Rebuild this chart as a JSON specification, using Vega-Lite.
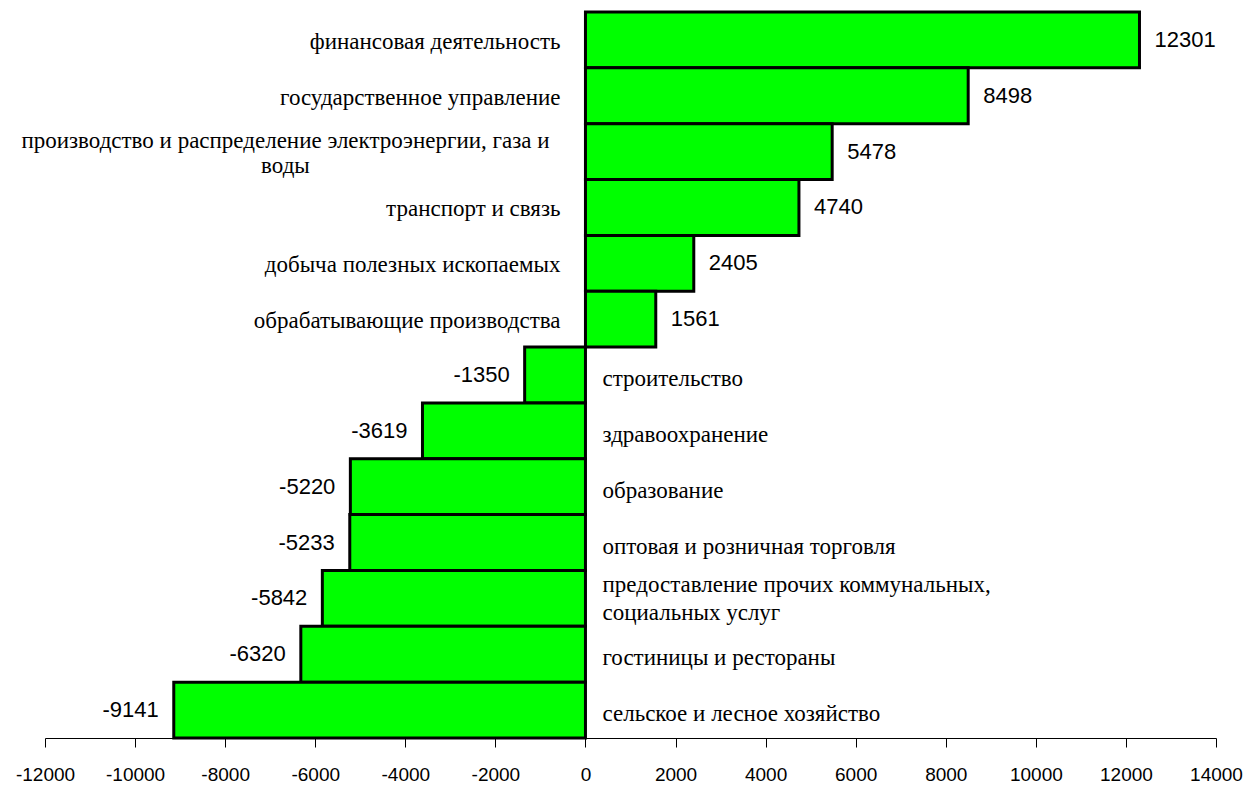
{
  "$schema": "https://vega.github.io/schema/vega-lite/v6.json",
  "width": 1171,
  "height": 726,
  "autosize": "none",
  "padding": {"left": 45, "top": 12, "right": 33, "bottom": 47},
  "background": "white",
  "title": {"text": "(рублей)", "font": "Liberation Serif", "fontSize": 22, "fontWeight": "normal", "anchor": "middle", "frame": "group", "baseline": "alphabetic", "offset": 10, "color": "black"},
  "config": {"view": {"stroke": null}},
  "data": {"values": [
    {"sector": "финансовая деятельность", "value": 12301},
    {"sector": "государственное управление", "value": 8498},
    {"sector": "производство и распределение электроэнергии, газа и\nводы", "value": 5478},
    {"sector": "транспорт и связь", "value": 4740},
    {"sector": "добыча полезных ископаемых", "value": 2405},
    {"sector": "обрабатывающие производства", "value": 1561},
    {"sector": "строительство", "value": -1350},
    {"sector": "здравоохранение", "value": -3619},
    {"sector": "образование", "value": -5220},
    {"sector": "оптовая и розничная торговля", "value": -5233},
    {"sector": "предоставление прочих коммунальных,\nсоциальных услуг", "value": -5842},
    {"sector": "гостиницы и рестораны", "value": -6320},
    {"sector": "сельское и лесное хозяйство", "value": -9141}
  ]},
  "encoding": {
    "y": {"field": "sector", "type": "nominal", "sort": null, "axis": null, "scale": {"paddingInner": 0, "paddingOuter": 0}}
  },
  "layer": [
    {
      "mark": {"type": "bar", "fill": "#00FF00", "stroke": "black", "strokeWidth": 3},
      "encoding": {
        "x": {"field": "value", "type": "quantitative",
          "scale": {"domain": [-12000, 14000], "nice": false, "zero": false},
          "axis": {"values": [-12000, -10000, -8000, -6000, -4000, -2000, 0, 2000, 4000, 6000, 8000, 10000, 12000, 14000],
            "title": null, "grid": false, "domainColor": "black", "domainWidth": 1, "tickColor": "black", "tickSize": 9, "tickWidth": 1,
            "labelFont": "Liberation Sans Narrow, Liberation Sans, Arial", "labelFontSize": 19, "labelColor": "black", "labelPadding": 18,
            "labelFlush": false, "labelOverlap": false, "labelExpr": "'' + datum.value"}}
      }
    },
    {
      "transform": [{"filter": "datum.value > 0"}],
      "mark": {"type": "text", "align": "left", "baseline": "middle", "dx": 15, "font": "Liberation Sans", "fontSize": 22, "color": "black"},
      "encoding": {"x": {"field": "value", "type": "quantitative"}, "text": {"field": "value", "type": "nominal"}}
    },
    {
      "transform": [{"filter": "datum.value < 0"}],
      "mark": {"type": "text", "align": "right", "baseline": "middle", "dx": -15, "font": "Liberation Sans", "fontSize": 22, "color": "black"},
      "encoding": {"x": {"field": "value", "type": "quantitative"}, "text": {"field": "value", "type": "nominal"}}
    },
    {
      "transform": [{"filter": "datum.value > 0 && indexof(datum.sector, '\\n') < 0"}],
      "mark": {"type": "text", "align": "right", "baseline": "middle", "dx": -25, "dy": 2, "font": "Liberation Serif", "fontSize": 23, "color": "black"},
      "encoding": {"x": {"datum": 0, "type": "quantitative"}, "text": {"field": "sector", "type": "nominal"}}
    },
    {
      "transform": [{"filter": "datum.value > 0 && indexof(datum.sector, '\\n') >= 0"}],
      "mark": {"type": "text", "align": "center", "baseline": "middle", "dx": -300, "dy": -11, "lineBreak": "\n", "lineHeight": 25, "font": "Liberation Serif", "fontSize": 23, "color": "black"},
      "encoding": {"x": {"datum": 0, "type": "quantitative"}, "text": {"field": "sector", "type": "nominal"}}
    },
    {
      "transform": [{"filter": "datum.value < 0 && indexof(datum.sector, '\\n') < 0"}],
      "mark": {"type": "text", "align": "left", "baseline": "middle", "dx": 17, "dy": 4, "font": "Liberation Serif", "fontSize": 23, "color": "black"},
      "encoding": {"x": {"datum": 0, "type": "quantitative"}, "text": {"field": "sector", "type": "nominal"}}
    },
    {
      "transform": [{"filter": "datum.value < 0 && indexof(datum.sector, '\\n') >= 0"}],
      "mark": {"type": "text", "align": "left", "baseline": "middle", "dx": 17, "dy": -13, "lineBreak": "\n", "lineHeight": 28, "font": "Liberation Serif", "fontSize": 23, "color": "black"},
      "encoding": {"x": {"datum": 0, "type": "quantitative"}, "text": {"field": "sector", "type": "nominal"}}
    }
  ]
}
